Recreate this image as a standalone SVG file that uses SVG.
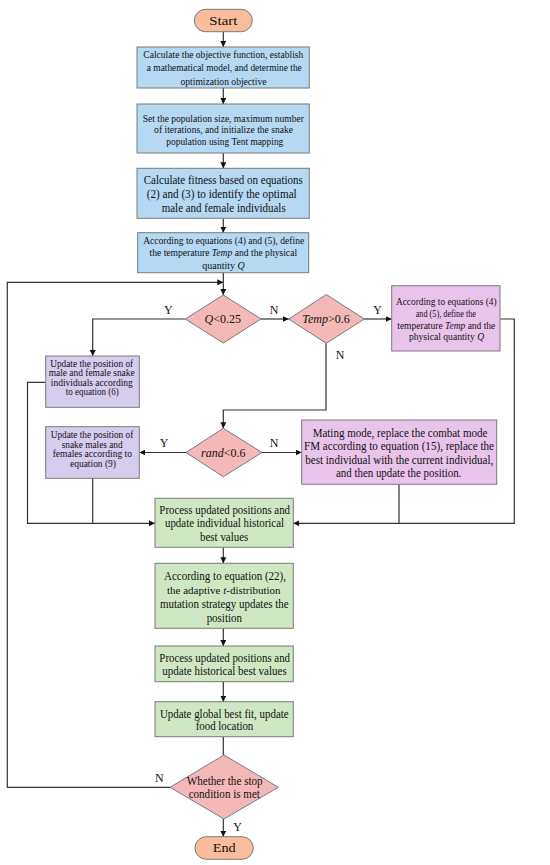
<svg xmlns="http://www.w3.org/2000/svg" width="550" height="865" viewBox="0 0 550 865">
<defs>
<marker id="ah" markerWidth="6" markerHeight="6" refX="6" refY="3" orient="auto" markerUnits="userSpaceOnUse">
<path d="M0,0 L6,3 L0,6 z" fill="#111"/>
</marker>
<style>
.bx{stroke:#7a7a7a;stroke-width:1}
.blue{fill:#b5d8f3}
.pur{fill:#d6cdee}
.pnk{fill:#e9c4ea}
.grn{fill:#cfe7c3}
.dia{fill:#f4b8b8}
.ter{fill:#f9bc9c}
text{font-family:"Liberation Serif","Times New Roman",serif;fill:#111;text-anchor:middle}
.c{fill:none;stroke:#333;stroke-width:1.2}
.a{marker-end:url(#ah)}
.lb{font-size:12px}
.i{font-style:italic}
</style>
</defs>
<rect width="550" height="865" fill="#fff"/>
<g id="connectors">
<line class="c a" x1="223.3" y1="31.7" x2="223.3" y2="47"/>
<line class="c a" x1="223.3" y1="88" x2="223.3" y2="104"/>
<line class="c a" x1="223.3" y1="153" x2="223.3" y2="168.3"/>
<line class="c a" x1="223.3" y1="218.3" x2="223.3" y2="232.7"/>
<line class="c a" x1="223.3" y1="272.7" x2="223.3" y2="295"/>
<polyline class="c a" points="170,787.3 7.3,787.3 7.3,282.3 223.3,282.3"/>
<polyline class="c a" points="185.3,319 92.7,319 92.7,356"/>
<line class="c a" x1="261" y1="319" x2="288.7" y2="319"/>
<line class="c a" x1="364.3" y1="319" x2="391.7" y2="319"/>
<polyline class="c a" points="326,343.3 326,410 223.3,410 223.3,428.3"/>
<line class="c a" x1="186" y1="452.5" x2="139.3" y2="452.5"/>
<line class="c a" x1="262" y1="452.5" x2="301.7" y2="452.5"/>
<polyline class="c a" points="45.7,382.3 27.5,382.3 27.5,523.3 155,523.3"/>
<line class="c" x1="92.7" y1="478.3" x2="92.7" y2="523.3"/>
<polyline class="c a" points="500,319 514.3,319 514.3,523.3 293.3,523.3"/>
<line class="c" x1="399" y1="484.3" x2="399" y2="523.3"/>
<line class="c a" x1="223.3" y1="547.3" x2="223.3" y2="563.3"/>
<line class="c a" x1="223.3" y1="628.3" x2="223.3" y2="646"/>
<line class="c a" x1="223.3" y1="681.7" x2="223.3" y2="701.7"/>
<line class="c" x1="223.3" y1="736.7" x2="223.3" y2="755"/>
<line class="c a" x1="223.3" y1="819" x2="223.3" y2="836.7"/>
<text class="lb" x="168.3" y="314">Y</text>
<text class="lb" x="274" y="314">N</text>
<text class="lb" x="377.7" y="314">Y</text>
<text class="lb" x="340" y="359">N</text>
<text class="lb" x="164" y="447.3">Y</text>
<text class="lb" x="274" y="447.3">N</text>
<text class="lb" x="159.3" y="782.3">N</text>
<text class="lb" x="237.7" y="830.7">Y</text>
</g>
<g id="start">
<rect class="bx ter" x="194.3" y="9.3" width="58" height="22.4" rx="11.2"/>
<text x="223.3" y="24.6" font-size="12" textLength="28" lengthAdjust="spacingAndGlyphs">Start</text>
</g>
<g id="n1">
<rect class="bx blue" x="137" y="47" width="172.3" height="41"/>
<g font-size="10.5">
<text x="223.3" y="57.8" textLength="160" lengthAdjust="spacingAndGlyphs">Calculate the objective function, establish</text>
<text x="224.3" y="71.3" textLength="155" lengthAdjust="spacingAndGlyphs">a mathematical model, and determine the</text>
<text x="223.5" y="84.8" textLength="86" lengthAdjust="spacingAndGlyphs">optimization objective</text>
</g>
</g>
<g id="n2">
<rect class="bx blue" x="137" y="104" width="172.3" height="49"/>
<g font-size="10.5">
<text x="223.3" y="121.5" textLength="161" lengthAdjust="spacingAndGlyphs">Set the population size, maximum number</text>
<text x="223.6" y="132.8" textLength="139" lengthAdjust="spacingAndGlyphs">of iterations, and initialize the snake</text>
<text x="224.8" y="144.8" textLength="117" lengthAdjust="spacingAndGlyphs">population using Tent mapping</text>
</g>
</g>
<g id="n3">
<rect class="bx blue" x="137" y="168.3" width="172.3" height="50"/>
<g font-size="12">
<text x="223.3" y="184.2" textLength="159" lengthAdjust="spacingAndGlyphs">Calculate fitness based on equations</text>
<text x="221.7" y="197.9" textLength="150" lengthAdjust="spacingAndGlyphs">(2) and (3) to identify the optimal</text>
<text x="223.7" y="211.5" textLength="124" lengthAdjust="spacingAndGlyphs">male and female individuals</text>
</g>
</g>
<g id="n4">
<rect class="bx blue" x="137.7" y="232.7" width="171" height="40"/>
<text x="223.7" y="244.2" font-size="10" textLength="161" lengthAdjust="spacingAndGlyphs">According to equations (4) and (5), define</text>
<text x="223.3" y="256.2" font-size="9.6">the temperature <tspan class="i">Temp</tspan> and the physical</text>
<text x="223.5" y="268.8" font-size="10">quantity <tspan class="i">Q</tspan></text>
</g>
<g id="d1">
<polygon class="bx dia" points="223.3,295 261,319 223.3,343 185.3,319"/>
<text x="222.7" y="323.2" font-size="12"><tspan class="i">Q</tspan>&lt;0.25</text>
</g>
<g id="d2">
<polygon class="bx dia" points="326.3,294.5 364.3,319 326.3,343.3 288.7,319"/>
<text x="326" y="323.2" font-size="12"><tspan class="i">Temp</tspan>&gt;0.6</text>
</g>
<g id="n5">
<rect class="bx pur" x="45.7" y="356" width="93.6" height="51.3"/>
<g font-size="10">
<text x="91.7" y="366.8" textLength="83" lengthAdjust="spacingAndGlyphs">Update the position of</text>
<text x="91.7" y="376.2" textLength="86" lengthAdjust="spacingAndGlyphs">male and female snake</text>
<text x="91.8" y="385.5" textLength="82" lengthAdjust="spacingAndGlyphs">individuals according</text>
<text x="92.2" y="394.8" textLength="53" lengthAdjust="spacingAndGlyphs">to equation (6)</text>
</g>
</g>
<g id="n6">
<rect class="bx pnk" x="391.7" y="285.7" width="108.3" height="65.3"/>
<text x="446.3" y="304.7" font-size="10.5" textLength="100.7" lengthAdjust="spacingAndGlyphs">According to equations (4)</text>
<text x="445.8" y="316.7" font-size="10.5" textLength="60.3" lengthAdjust="spacingAndGlyphs">and (5), define the</text>
<text x="446.3" y="328.5" font-size="9.5">temperature <tspan class="i">Temp</tspan> and the</text>
<text x="446.5" y="340.2" font-size="9.6">physical quantity <tspan class="i">Q</tspan></text>
</g>
<g id="d3">
<polygon class="bx dia" points="223.3,428.3 262,452.5 223.3,476.7 186,452.5"/>
<text x="223.3" y="457" font-size="12"><tspan class="i">rand</tspan>&lt;0.6</text>
</g>
<g id="n7">
<rect class="bx pur" x="45.7" y="426.7" width="93.6" height="51.6"/>
<g font-size="10">
<text x="92" y="437.8" textLength="82.6" lengthAdjust="spacingAndGlyphs">Update the position of</text>
<text x="92.2" y="447.5" textLength="61" lengthAdjust="spacingAndGlyphs">snake males and</text>
<text x="92.3" y="457.2" textLength="79.3" lengthAdjust="spacingAndGlyphs">females according to</text>
<text x="93" y="466.8" textLength="46" lengthAdjust="spacingAndGlyphs">equation (9)</text>
</g>
</g>
<g id="n8">
<rect class="bx pnk" x="301.7" y="420" width="195" height="64.3"/>
<g font-size="12">
<text x="400" y="436.9" textLength="174.7" lengthAdjust="spacingAndGlyphs">Mating mode, replace the combat mode</text>
<text x="399" y="450.4" textLength="190" lengthAdjust="spacingAndGlyphs">FM according to equation (15), replace the</text>
<text x="399.3" y="463.9" textLength="188" lengthAdjust="spacingAndGlyphs">best individual with the current individual,</text>
<text x="398.7" y="477.4" textLength="125.3" lengthAdjust="spacingAndGlyphs">and then update the position.</text>
</g>
</g>
<g id="n9">
<rect class="bx grn" x="155" y="498.3" width="138.3" height="49"/>
<g font-size="12">
<text x="224.7" y="513.5" textLength="130.7" lengthAdjust="spacingAndGlyphs">Process updated positions and</text>
<text x="224.5" y="527.2" textLength="119" lengthAdjust="spacingAndGlyphs">update individual historical</text>
<text x="224.2" y="540.9" textLength="48.3" lengthAdjust="spacingAndGlyphs">best values</text>
</g>
</g>
<g id="n10">
<rect class="bx grn" x="155" y="563.3" width="138.3" height="65"/>
<text x="225" y="580.2" font-size="12" textLength="122" lengthAdjust="spacingAndGlyphs">According to equation (22),</text>
<text x="223.8" y="593.5" font-size="11">the adaptive <tspan class="i">t</tspan>-distribution</text>
<text x="224.3" y="607.5" font-size="12" textLength="128.7" lengthAdjust="spacingAndGlyphs">mutation strategy updates the</text>
<text x="224.3" y="621.5" font-size="12" textLength="35.3" lengthAdjust="spacingAndGlyphs">position</text>
</g>
<g id="n11">
<rect class="bx grn" x="155" y="646" width="138.3" height="35.7"/>
<g font-size="12">
<text x="224.7" y="661.5" textLength="130.7" lengthAdjust="spacingAndGlyphs">Process updated positions and</text>
<text x="224.5" y="674.9" textLength="124.4" lengthAdjust="spacingAndGlyphs">update historical best values</text>
</g>
</g>
<g id="n12">
<rect class="bx grn" x="155" y="701.7" width="138.3" height="35"/>
<g font-size="12">
<text x="224.3" y="717.5" textLength="128.7" lengthAdjust="spacingAndGlyphs">Update global best fit, update</text>
<text x="224.5" y="730.2" textLength="57.6" lengthAdjust="spacingAndGlyphs">food location</text>
</g>
</g>
<g id="d4">
<polygon class="bx dia" points="224,755 278.3,787.3 224,819 170,787.3"/>
<g font-size="11.5">
<text x="224.7" y="784.8" textLength="76" lengthAdjust="spacingAndGlyphs">Whether the stop</text>
<text x="224.3" y="798.1" textLength="71.3" lengthAdjust="spacingAndGlyphs">condition is met</text>
</g>
</g>
<g id="end">
<rect class="bx ter" x="195" y="836.7" width="58.3" height="22.6" rx="11.3"/>
<text x="224.2" y="852.2" font-size="12" textLength="23" lengthAdjust="spacingAndGlyphs">End</text>
</g>
</svg>
